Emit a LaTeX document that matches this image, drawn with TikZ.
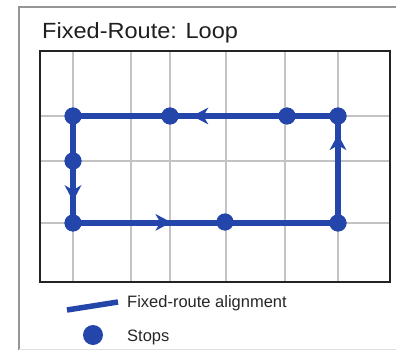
\documentclass[tikz,border=0pt]{standalone}
\usepackage{fontspec}
\setmainfont{Liberation Sans}
\definecolor{routeblue}{RGB}{36,70,170}
\definecolor{gridgray}{RGB}{195,195,195}
\definecolor{framegray}{RGB}{150,150,150}
\definecolor{boxdark}{RGB}{35,35,35}
\tikzset{
  stop/.style={circle,fill=routeblue,inner sep=0pt,minimum size=17pt},
  legstop/.style={circle,fill=routeblue,inner sep=0pt,minimum size=20pt},
  gridline/.style={draw=gridgray,line width=1.3pt},
  route/.style={draw=routeblue,line width=6pt,line join=miter},
  arrowhead/.pic={\fill[routeblue] (1,0) -- (-15,8.5) -- (-10,0) -- (-15,-8.5) -- cycle;},
  legtext/.style={anchor=base west,inner sep=0pt,font=\fontsize{16.5}{18}\selectfont,text=black!85}
}
\begin{document}
\begin{tikzpicture}[x=1pt,y=-1pt]
\useasboundingbox (0,0) rectangle (396,350);
% outer frame
\draw[framegray,line width=1.8pt] (19,350) -- (19,7) -- (397,7);
\draw[gray!25,line width=1pt] (19,349.5) -- (397,349.5);
% title
\node[anchor=base west,inner sep=0pt,text=black!88] (title) at (42,39)
  {\fontsize{22}{24}\selectfont\scalebox{1.07}[1]{Fixed-Route: Loop}};
% grid
\foreach \gx in {73,131,170,226,285,338} \draw[gridline] (\gx,51) -- (\gx,282);
\foreach \gy in {116,161,223} \draw[gridline] (40,\gy) -- (390,\gy);
% inner box
\draw[boxdark,line width=2.4pt] (40,51) rectangle (390,282);
% stops (positions)
\node[stop] (s1) at (73,116) {};
\node[stop] (s2) at (170,116) {};
\node[stop] (s3) at (287,116) {};
\node[stop] (s4) at (338,116) {};
\node[stop] (s5) at (73,161) {};
\node[stop] (s6) at (73,223) {};
\node[stop] (s7) at (225,222) {};
\node[stop] (s8) at (338,223) {};
% route
\draw[route] (s1.center) -- (s6.center) -- (s8.center) -- (s4.center) -- cycle;
% direction arrows
\path (s3.center) -- (s2.center) coordinate[pos=0.80] (a1t);
\path (s5.center) -- (s6.center) coordinate[pos=0.63] (a2t);
\path (s6.center) -- (s7.center) coordinate[pos=0.64] (a3t);
\path (s8.center) -- (s4.center) coordinate[pos=0.82] (a4t);
\pic[rotate=180] at (a1t) {arrowhead};
\pic[rotate=-90] at (a2t) {arrowhead};
\pic at (a3t) {arrowhead};
\pic[rotate=90] at (a4t) {arrowhead};
% redraw stops on top
\foreach \s in {s1,s2,s3,s4,s5,s6,s7,s8} \fill[routeblue] (\s) circle (8.5pt);
% legend
\coordinate (l1) at (67,310);
\coordinate (l2) at (118,302);
\draw[routeblue,line width=5.5pt] (l1) -- (l2);
\node[legtext] (t1) at (127,307) {Fixed-route alignment};
\node[legstop] (ls) at (93,335) {};
\node[legtext] (t2) at (127,341) {Stops};
\end{tikzpicture}
\end{document}
